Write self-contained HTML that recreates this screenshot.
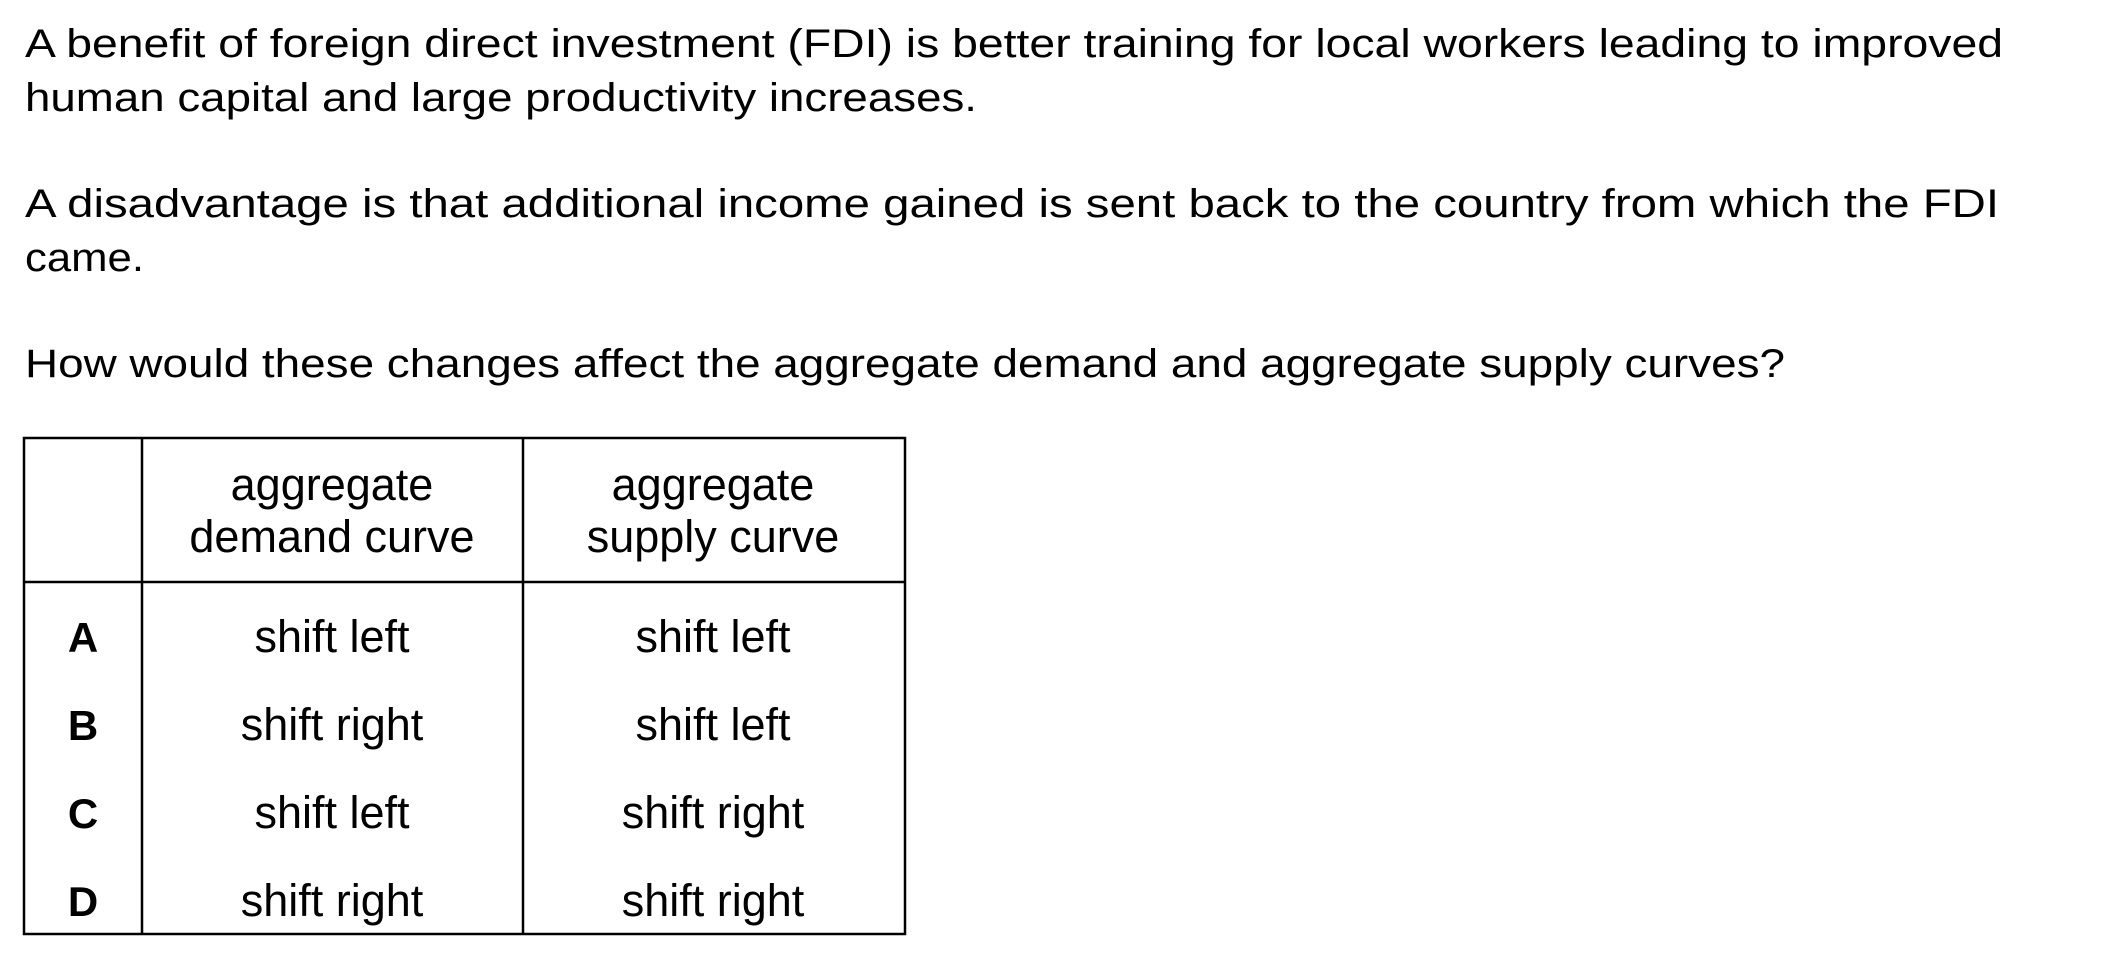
<!DOCTYPE html>
<html><head><meta charset="utf-8"><style>
html,body{margin:0;padding:0;background:#fff;}
svg{display:block;}
text{font-family:"Liberation Sans",Arial,sans-serif;font-size:40px;fill:#000;}
.t{font-size:45px;}
.b{font-weight:bold;font-size:42px;}
</style></head><body>
<svg width="2101" height="961" viewBox="0 0 2101 961">
<g>
<text x="25" y="57" textLength="1978" lengthAdjust="spacingAndGlyphs">A benefit of foreign direct investment (FDI) is better training for local workers leading to improved</text>
<text x="25" y="111" textLength="952" lengthAdjust="spacingAndGlyphs">human capital and large productivity increases.</text>
<text x="25" y="217" textLength="1974" lengthAdjust="spacingAndGlyphs">A disadvantage is that additional income gained is sent back to the country from which the FDI</text>
<text x="25" y="271" textLength="119" lengthAdjust="spacingAndGlyphs">came.</text>
<text x="25" y="377" textLength="1760" lengthAdjust="spacingAndGlyphs">How would these changes affect the aggregate demand and aggregate supply curves?</text>
</g>
<g stroke="#000" stroke-width="2.5" fill="none">
<rect x="24" y="438" width="881" height="496"/>
<line x1="142" y1="438" x2="142" y2="934"/>
<line x1="523" y1="438" x2="523" y2="934"/>
<line x1="24" y1="582" x2="905" y2="582"/>
</g>
<g text-anchor="middle">
<text class="t" x="332" y="500">aggregate</text>
<text class="t" x="332" y="552">demand curve</text>
<text class="t" x="713" y="500">aggregate</text>
<text class="t" x="713" y="552">supply curve</text>

<text class="b" x="83" y="652">A</text>
<text class="t" x="332" y="652">shift left</text>
<text class="t" x="713" y="652">shift left</text>

<text class="b" x="83" y="740">B</text>
<text class="t" x="332" y="740">shift right</text>
<text class="t" x="713" y="740">shift left</text>

<text class="b" x="83" y="828">C</text>
<text class="t" x="332" y="828">shift left</text>
<text class="t" x="713" y="828">shift right</text>

<text class="b" x="83" y="916">D</text>
<text class="t" x="332" y="916">shift right</text>
<text class="t" x="713" y="916">shift right</text>
</g>
</svg>
</body></html>
